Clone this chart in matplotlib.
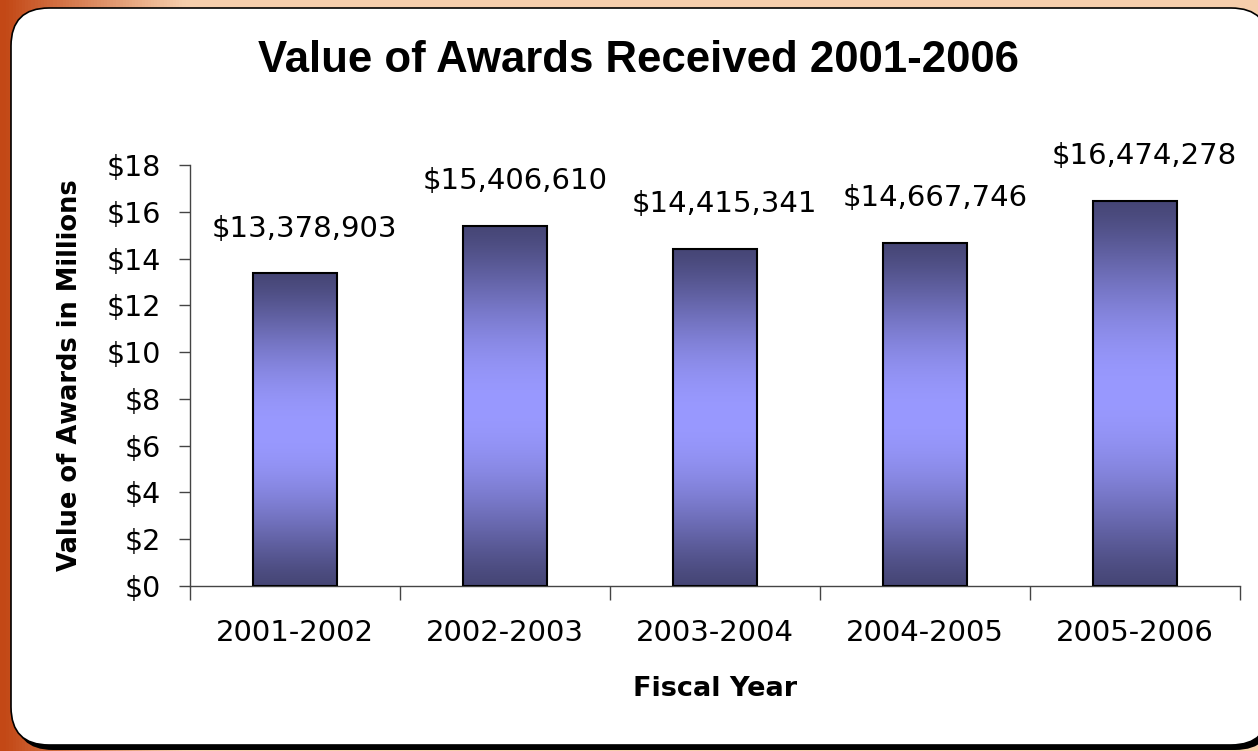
import numpy as np
import matplotlib.pyplot as plt
from matplotlib.patches import FancyBboxPatch
from matplotlib.ticker import FuncFormatter, FixedLocator

plt.rcParams['font.family'] = ['DejaVu Sans']

# data (dollars)
years = ['2001-2002', '2002-2003', '2003-2004', '2004-2005', '2005-2006']
awards = [13378903, 15406610, 14415341, 14667746, 16474278]
yticks = [0, 2, 4, 6, 8, 10, 12, 14, 16, 18]

awards_m = [a / 1e6 for a in awards]

W, H = 1258, 751
fig = plt.figure(figsize=(W / 100, H / 100), dpi=100)

# orange background behind the white panel (pixel coords, y up)
bg = fig.add_axes([0, 0, 1, 1])
bg.set_axis_off()
gx = np.linspace(0, 1, 400)
gy = np.linspace(0, 1, 200)
X, Y = np.meshgrid(gx, gy)
t = np.clip(X * 7 - 0.02, 0, 1)  # 0 = deep orange, 1 = peach
c0 = np.array([195, 72, 22]) / 255
c1 = np.array([246, 206, 172]) / 255
img = c0[None, None, :] * (1 - t[..., None]) + c1[None, None, :] * t[..., None]
bg.imshow(img, extent=[0, W, 0, H], aspect='auto', origin='upper')
bg.set_xlim(0, W)
bg.set_ylim(0, H)

# shadow + white rounded panel (runs past the right edge)
shadow = FancyBboxPatch((15, 1), 1258, 736, boxstyle='round,pad=0,rounding_size=38',
                        fc='black', ec='none')
bg.add_patch(shadow)
panel = FancyBboxPatch((11, 6), 1258, 737, boxstyle='round,pad=0,rounding_size=38',
                       fc='white', ec='black', lw=1.2)
bg.add_patch(panel)

ax = fig.add_axes([190 / W, 1 - 586 / H, 1050 / W, (586 - 165) / H])
ax.set_facecolor('none')

x = np.arange(len(years))
bars = ax.bar(x, awards_m, width=0.4, color='none', edgecolor='black', lw=1.5, zorder=3)

# vertical gradient inside each bar: dark at ends, light in the middle
g = np.linspace(0, 1, 256)
w = np.sin(np.pi * g) ** 1.3
dark = np.array([70, 70, 118]) / 255
light = np.array([153, 153, 255]) / 255
grad = dark[None, :] * (1 - w[:, None]) + light[None, :] * w[:, None]
grad = grad[:, None, :]
for b in bars:
    im = ax.imshow(grad, extent=[b.get_x(), b.get_x() + b.get_width(), 0, b.get_height()],
                   aspect='auto', origin='lower', zorder=2)
    im.set_clip_path(b)

for xi, v in zip(x, awards):
    ax.annotate(f'${v:,.0f}', (xi, v / 1e6), xytext=(7, 22), textcoords='offset points',
                ha='center', va='bottom', fontsize=21)

ax.set_xlim(-0.5, len(years) - 0.5)
ax.set_ylim(0, 18)
ax.set_yticks(yticks)
ax.yaxis.set_major_formatter(FuncFormatter(lambda v, p: f'${v:.0f}'))
ax.set_xticks(x)
ax.set_xticklabels(years)
ax.xaxis.set_minor_locator(FixedLocator(np.arange(-0.5, len(years), 1.0)))
ax.tick_params(axis='x', which='major', length=0, pad=24, labelsize=21)
ax.tick_params(axis='x', which='minor', length=10, width=1, color='#444444', direction='out')
ax.tick_params(axis='y', length=8, width=1, color='#444444', pad=13, labelsize=20.5)
for s in ['top', 'right']:
    ax.spines[s].set_visible(False)
for s in ['left', 'bottom']:
    ax.spines[s].set_color('#444444')
    ax.spines[s].set_linewidth(1)

ax.set_xlabel('Fiscal Year', fontsize=19.5, fontweight='bold', labelpad=21)
ax.set_ylabel('Value of Awards in Millions', fontsize=18.5, fontweight='bold', labelpad=17)

fig.text(638 / W, 1 - 61 / H, 'Value of Awards Received 2001-2006',
         ha='center', va='center', fontsize=31.5, fontweight='bold',
         family=['Liberation Sans', 'DejaVu Sans'])

fig.savefig('out.png', dpi=100)
